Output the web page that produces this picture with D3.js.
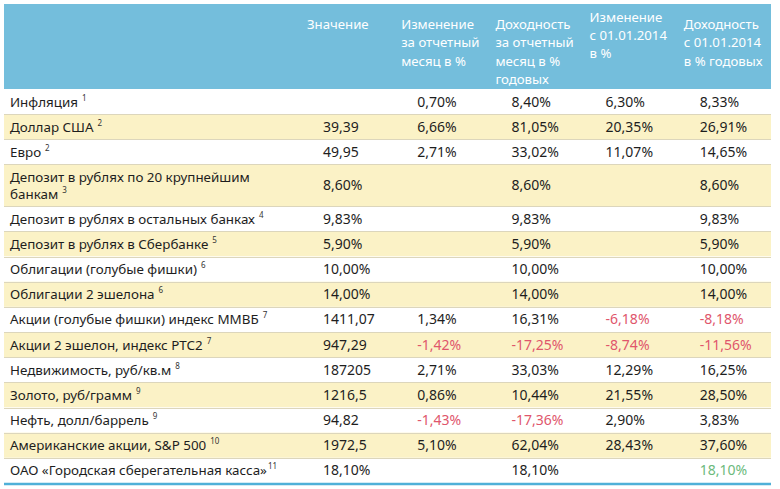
<!DOCTYPE html>
<html><head><meta charset="utf-8">
<script src="https://cdn.jsdelivr.net/npm/d3@7"></script>
<style>body{margin:0;background:#fff}svg{display:block}</style>
</head><body><svg id="c" width="780" height="489"></svg>
<script>
const headers = [
  ["Значение"],
  ["Изменение","за отчетный","месяц в %"],
  ["Доходность","за отчетный","месяц в %","годовых"],
  ["Изменение","с 01.01.2014","в %"],
  ["Доходность","с 01.01.2014","в % годовых"]
];
const headerShift = [0,0,0,-0.4,0];
const labels = [
  ["Инфляция"],["Доллар США"],["Евро"],
  ["Депозит в рублях по 20 крупнейшим","банкам"],
  ["Депозит в рублях в остальных банках"],["Депозит в рублях в Сбербанке"],
  ["Облигации (голубые фишки)"],["Облигации 2 эшелона"],
  ["Акции (голубые фишки) индекс ММВБ"],["Акции 2 эшелон, индекс РТС2"],
  ["Недвижимость, руб/кв.м"],["Золото, руб/грамм"],["Нефть, долл/баррель"],
  ["Американские акции, S&P 500"],["ОАО «Городская сберегательная касса»"]
];
const notes = ["1","2","2","3","4","5","6","6","7","7","8","9","9","10","11"];
const values = ["","39,39","49,95","8,60%","9,83%","5,90%","10,00%","14,00%","1411,07","947,29","187205","1216,5","94,82","1972,5","18,10%"];
const monthChange = ["0,70%","6,66%","2,71%","","","","","","1,34%","-1,42%","2,71%","0,86%","-1,43%","5,10%",""];
const monthYield = ["8,40%","81,05%","33,02%","8,60%","9,83%","5,90%","10,00%","14,00%","16,31%","-17,25%","33,03%","10,44%","-17,36%","62,04%","18,10%"];
const ytdChange = ["6,30%","20,35%","11,07%","","","","","","-6,18%","-8,74%","12,29%","21,55%","2,90%","28,43%",""];
const ytdYield = ["8,33%","26,91%","14,65%","8,60%","9,83%","5,90%","10,00%","14,00%","-8,18%","-11,56%","16,25%","28,50%","3,83%","37,60%","18,10%"];
const highlight = [[14,4]]; // row, column shown in green

const cols = [values, monthChange, monthYield, ytdChange, ytdYield];
const svg = d3.select("#c");
const FONT = "'Noto Sans', 'Open Sans', sans-serif";

const tableLeft = 4, tableRight = 771;
const x = d3.scaleBand().domain(d3.range(5)).range([300, tableRight]).paddingInner(0);
const units = labels.map(l => l.length > 1 ? 1.66 : 1);
const cum = [0]; units.forEach(u => cum.push(cum[cum.length-1] + u));
const y = d3.scaleLinear().domain([0, cum[cum.length-1]]).range([89, 483]);

svg.append("rect").attr("x", tableLeft).attr("y", 4).attr("width", tableRight - tableLeft).attr("height", 85).attr("fill", "#74bedc");
const hy = d3.scaleLinear().domain([0,1]).range([29, 47.3]);
headers.forEach((lines, i) => {
  const t = svg.append("text").attr("font-family", FONT).attr("font-size", 13.2).attr("fill", "#fff");
  lines.forEach((ln, j) => {
    t.append("tspan").attr("x", x(i) + 7).attr("y", hy(j + headerShift[i])).text(ln);
  });
});

const rows = svg.append("g");
labels.forEach((lab, r) => {
  const y0 = y(cum[r]), y1 = y(cum[r+1]);
  rows.append("rect").attr("x", tableLeft).attr("y", y0).attr("width", tableRight - tableLeft).attr("height", y1 - y0)
    .attr("fill", r % 2 === 1 ? "#fbf2c6" : "#ffffff");
  if (r > 0) rows.append("line").attr("x1", tableLeft).attr("x2", tableRight).attr("y1", Math.round(y0)+0.5).attr("y2", Math.round(y0)+0.5)
    .attr("stroke", "#dcd6bc").attr("stroke-width", 1);
  const mid = (y0 + y1) / 2;
  const nLines = lab.length;
  const lh = 17.5;
  const t = rows.append("text").attr("font-family", FONT).attr("font-size", 13.4).attr("fill", "#1e1e1e");
  lab.forEach((ln, j) => {
    const base = mid + 5 + (j - (nLines - 1) / 2) * lh;
    t.append("tspan").attr("x", 10).attr("y", base).text(ln);
  });
  const lastBase = mid + 5 + ((nLines - 1) / 2) * lh;
  const lastTspan = t.selectAll("tspan").nodes()[nLines - 1];
  const w = lastTspan.getComputedTextLength();
  const noteGap = r === 14 ? 1 : 4;
  rows.append("text").attr("font-family", FONT).attr("font-size", 8).attr("fill", "#333")
    .attr("x", 10 + w + noteGap).attr("y", lastBase - 6).text(notes[r]);
  cols.forEach((arr, c) => {
    const v = arr[r]; if (!v) return;
    const green = highlight.some(h => h[0] === r && h[1] === c);
    rows.append("text").attr("font-family", FONT).attr("font-size", 14)
      .attr("fill", green ? "#6cba7c" : (v.startsWith("-") ? "#e0566c" : "#1e1e1e"))
      .attr("x", x(c) + 23).attr("y", mid + 5).text(v);
  });
});
svg.append("line").attr("x1", tableLeft).attr("x2", tableRight).attr("y1", y(cum[cum.length-1]) + 1).attr("y2", y(cum[cum.length-1]) + 1)
  .attr("stroke", "#4fb0d8").attr("stroke-width", 2.5);
</script></body></html>
